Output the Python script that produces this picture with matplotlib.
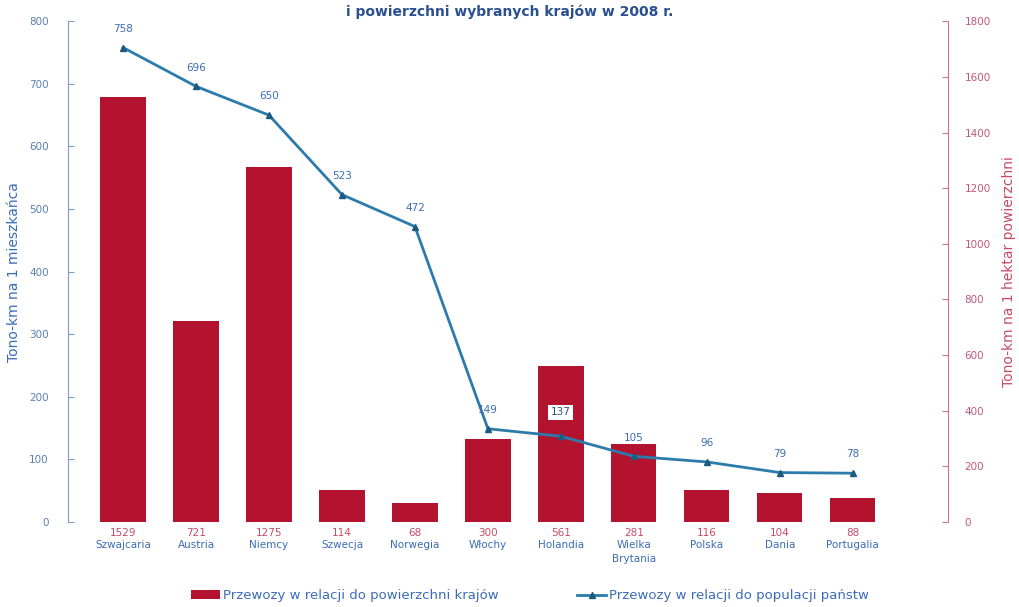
import matplotlib.pyplot as plt
import numpy as np

# countries and the two series
countries = ["Szwajcaria", "Austria", "Niemcy", "Szwecja", "Norwegia", "Włochy",
             "Holandia", "Wielka\nBrytania", "Polska", "Dania", "Portugalia"]
per_hectare = [1529, 721, 1275, 114, 68, 300, 561, 281, 116, 104, 88]
per_capita = [758, 696, 650, 523, 472, 149, 137, 105, 96, 79, 78]

bar_color = "#b3132f"
line_color = "#2b7bab"
blue_txt = "#3a6cb8"
red_txt = "#c84a68"

fig = plt.figure(figsize=(10.19, 6.07), dpi=100)
ax = fig.add_axes([0.067, 0.14, 0.863, 0.825])
ax2 = ax.twinx()

x = np.arange(len(countries))

# bars on the right axis
ax2.bar(x, per_hectare, width=0.62, color=bar_color, zorder=1,
        label="Przewozy w relacji do powierzchni krajów")
ax2.set_ylim(0, 1800)
ax2.set_yticks(np.arange(0, 1801, 200))

# line on the left axis, drawn above the bars
ax.set_zorder(ax2.get_zorder() + 1)
ax.patch.set_visible(False)
ax.plot(x, per_capita, color=line_color, lw=2.0, marker="^", ms=4,
        mfc="#1d5a80", mec="#1d5a80",
        label="Przewozy w relacji do populacji państw")
ax.set_ylim(0, 800)
ax.set_yticks(np.arange(0, 801, 100))
ax.set_xlim(-0.75, 11.3)
ax.set_xticks([])

for i, v in enumerate(per_capita):
    if v == 137:
        ax.text(i, v + 38, str(v), ha="center", va="center", fontsize=7.5,
                color="#2a4f80",
                bbox=dict(boxstyle="square,pad=0.25", fc="white", ec="none"))
    else:
        ax.text(i, v + 22, str(v), ha="center", va="bottom", fontsize=7.5,
                color=blue_txt)

# value and country name under every bar
tr = ax.get_xaxis_transform()
for i, (c, v) in enumerate(zip(countries, per_hectare)):
    ax.text(i, -0.012, str(v), transform=tr, ha="center", va="top",
            fontsize=7.5, color=red_txt)
    ax.text(i, -0.036, c, transform=tr, ha="center", va="top",
            fontsize=7.5, color=blue_txt, linespacing=1.5)

# spines and ticks
for a in (ax, ax2):
    a.spines["top"].set_visible(False)
    a.spines["bottom"].set_visible(False)
ax.spines["right"].set_visible(False)
ax2.spines["left"].set_visible(False)
ax.spines["left"].set_color("#7a9cc0")
ax2.spines["right"].set_color("#c87890")
ax.tick_params(axis="y", direction="in", length=4, color="#7a9cc0",
               labelcolor="#5a7fb0", labelsize=7.5, pad=14)
ax2.tick_params(axis="y", direction="in", length=4, color="#c87890",
                labelcolor="#c05878", labelsize=7.5, pad=12)

ax.set_ylabel("Tono-km na 1 mieszkańca", color=blue_txt, fontsize=10, labelpad=6)
ax2.set_ylabel("Tono-km na 1 hektar powierzchni", color=red_txt, fontsize=10,
               labelpad=8)

fig.text(0.5, 0.993, "i powierzchni wybranych krajów w 2008 r.", ha="center",
         va="top", fontsize=10, fontweight="bold", color="#2a4f90")

h1, l1 = ax2.get_legend_handles_labels()
h2, l2 = ax.get_legend_handles_labels()
fig.legend(h1 + h2, l1 + l2, loc="lower center", ncol=2, frameon=False,
           bbox_to_anchor=(0.52, -0.012), fontsize=9.5, columnspacing=6,
           handlelength=2.2, handletextpad=0.2, labelcolor=blue_txt)

fig.savefig("out.png", dpi=100)
